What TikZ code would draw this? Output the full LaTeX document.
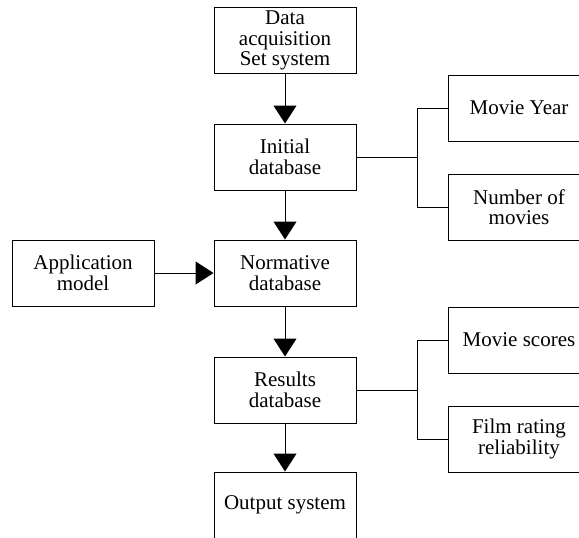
\documentclass[tikz,border=0pt]{standalone}
\usepackage{fontspec}
\setmainfont{Liberation Serif}
\usetikzlibrary{arrows.meta}

\tikzset{
  box/.style={draw, line width=1pt, minimum width=142pt, minimum height=66pt,
              align=center, inner sep=2pt, font=\fontsize{21}{20.5}\selectfont},
  flow/.style={line width=1pt, -{Triangle[width=23pt,length=18pt]}},
  link/.style={line width=1pt}
}

\begin{document}
\begin{tikzpicture}[x=1pt,y=-1pt]
\useasboundingbox (0,0) rectangle (579,538);
\clip (0,0) rectangle (579,538);

% main column
\node[box] (acq) at (285,40.5) {Data\\acquisition\\Set system};
\node[box] (init) at (285,157) {Initial\\database};
\node[box] (norm) at (285,273) {Normative\\database};
\node[box] (res) at (285,390) {Results\\database};
\node[box] (out) at (285,505) {Output system};

\node[box] (app) at (83,273) {Application\\model};

% side boxes
\node[box] (year) at (519,108) {Movie Year};
\node[box] (num) at (519,207) {Number of\\movies};
\node[box] (score) at (519,340) {Movie scores};
\node[box] (rel) at (519,439) {Film rating\\reliability};

\draw[flow] (acq) -- (init);
\draw[flow] (init) -- (norm);
\draw[flow] (norm) -- (res);
\draw[flow] (res) -- (out);
\draw[flow] (app) -- (norm);

\draw[link] (init.east) -- ++(61,0) coordinate (j1);
\draw[link] (year.west) -| (j1);
\draw[link] (num.west) -| (j1);

\draw[link] (res.east) -- ++(61,0) coordinate (j2);
\draw[link] (score.west) -| (j2);
\draw[link] (rel.west) -| (j2);

\end{tikzpicture}
\end{document}
